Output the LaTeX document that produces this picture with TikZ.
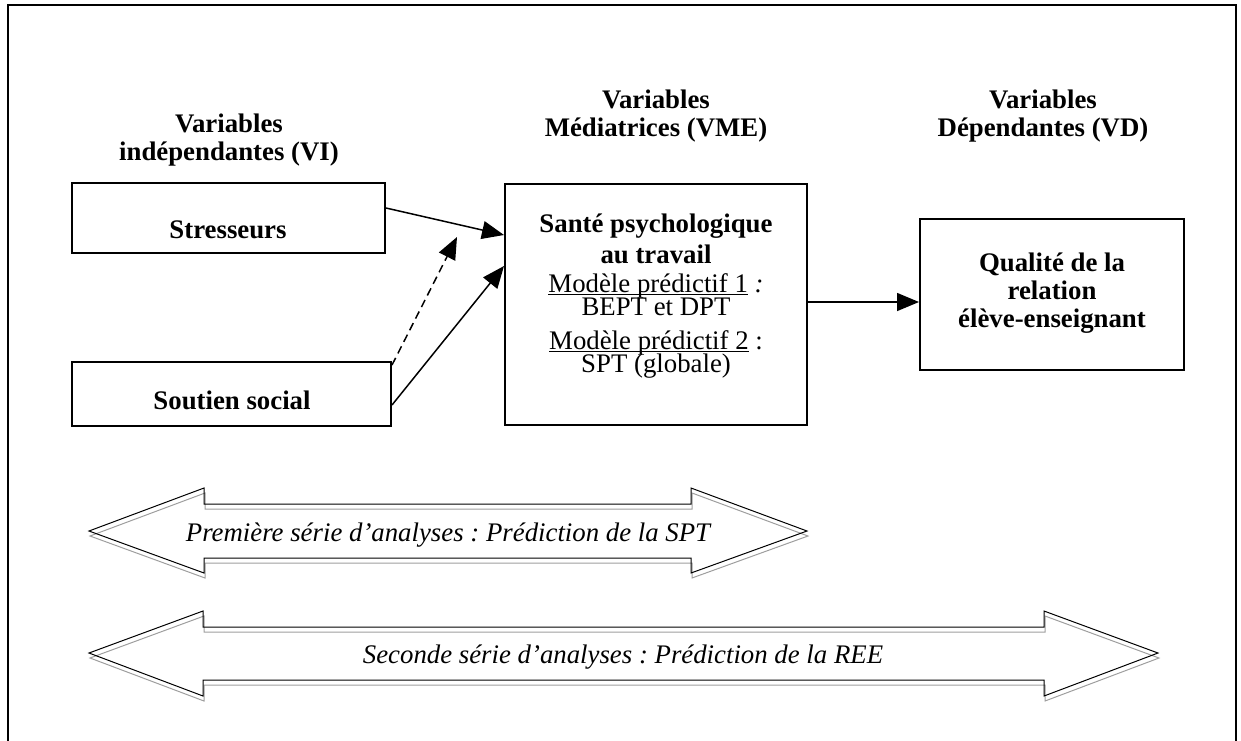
\documentclass[tikz,border=0pt]{standalone}
\usepackage{fontspec}
\setmainfont{Liberation Serif}
\usetikzlibrary{arrows.meta,fit}
% underline set close to the baseline, as a word processor does
\newcommand\wordul[1]{\setbox0=\hbox{#1}\rlap{\rule[-1.6pt]{\wd0}{0.55pt}}\box0\relax}
\begin{document}
\frenchspacing
\begin{tikzpicture}[x=0.5pt,y=-0.5pt,
  txt/.style={font=\fontsize{13.4}{14}\selectfont, inner sep=0pt},
  btxt/.style={font=\fontsize{13.4}{14}\selectfont\bfseries, inner sep=0pt},
  itxt/.style={font=\fontsize{13.4}{14}\selectfont\itshape, inner sep=0pt},
  hdr/.style={btxt, align=center},
  box/.style={draw, line width=1pt, inner sep=0pt},
  conn/.style={line width=0.75pt, -{Triangle[length=11pt,width=9pt]}},
  band/.style={line width=0.5pt, line join=miter},
  bandshadow/.style={line width=0.5pt, draw=black!38},
]
\clip (0,0) rectangle (1241,740);
% open frame
\draw[line width=1pt] (8,770) -- (8,5) -- (1236,5) -- (1236,770);

% column headings
\node[hdr] (hVI)  at (229,140) {Variables\\indépendantes (VI)};
\node[hdr] (hVME) at (656,116) {Variables\\Médiatrices (VME)};
\node[hdr] (hVD)  at (1043,116) {Variables\\Dépendantes (VD)};

% boxes
\node[box, fit={(72,183) (385,253)}] (stress) {};
\node[btxt, anchor=base] (stressT) at (228,238) {Stresseurs};
\node[box, fit={(72,362) (391,426)}] (soutien) {};
\node[btxt, anchor=base] (soutienT) at (232,409) {Soutien social};
\node[box, fit={(505,184) (807,425)}] (sante) {};
\node[btxt, anchor=base] (santeA) at (656,232) {Santé psychologique};
\node[btxt, anchor=base] (santeB) at (656,263) {au travail};
\node[txt, anchor=base] (santeC) at (656,292) {\wordul{Modèle prédictif 1} \textit{:}};
\node[txt, anchor=base] (santeD) at (656,315) {BEPT et DPT};
\node[txt, anchor=base] (santeE) at (656,349) {\wordul{Modèle prédictif 2} :};
\node[txt, anchor=base] (santeF) at (656,372) {SPT (globale)};
\node[box, fit={(920,219) (1184,370)}] (qual) {};
\node[btxt, anchor=base] (qualA) at (1052,271) {Qualité de la};
\node[btxt, anchor=base] (qualB) at (1052,299) {relation};
\node[btxt, anchor=base] (qualC) at (1052,327) {élève-enseignant};

% connectors
\coordinate (s1) at ([yshift=5pt]stress.east);
\coordinate (e1) at ([yshift=34.75pt]sante.west);
\coordinate (s2) at ([yshift=-5.5pt]soutien.east);
\coordinate (e2) at ([yshift=19.25pt]sante.west);
\coordinate (mod) at (457,237);
\coordinate (s3) at ([yshift=1.25pt]sante.east);
\draw[conn] (s1) -- (e1);
\draw[conn] (s2) -- (e2);
\draw[conn, dashed, dash pattern=on 4pt off 2.5pt] ([yshift=-2pt]soutien.north east) -- (mod);
\draw[conn] (s3) -- (s3 -| qual.west);

% two-headed analysis bands with offset shadow
\foreach \dx/\dy/\st in {1/5/bandshadow, 0/0/band}{
  \begin{scope}[shift={(\dx,\dy)}]
    \draw[\st] (89,531) -- (204,488) -- (204,504) -- (691,504) -- (691,488)
      -- (807,531) -- (691,573) -- (691,558) -- (204,558) -- (204,573) -- cycle;
    \draw[\st] (89,653) -- (203,611) -- (203,627) -- (1044,627) -- (1044,611)
      -- (1158,653) -- (1044,696) -- (1044,680) -- (203,680) -- (203,696) -- cycle;
  \end{scope}
}
\node[itxt, anchor=base] (band1) at (448,541)
  {Première série d’analyses : Prédiction de la SPT};
\node[itxt, anchor=base] (band2) at (623,663)
  {Seconde série d’analyses : Prédiction de la REE};
\end{tikzpicture}
\end{document}
